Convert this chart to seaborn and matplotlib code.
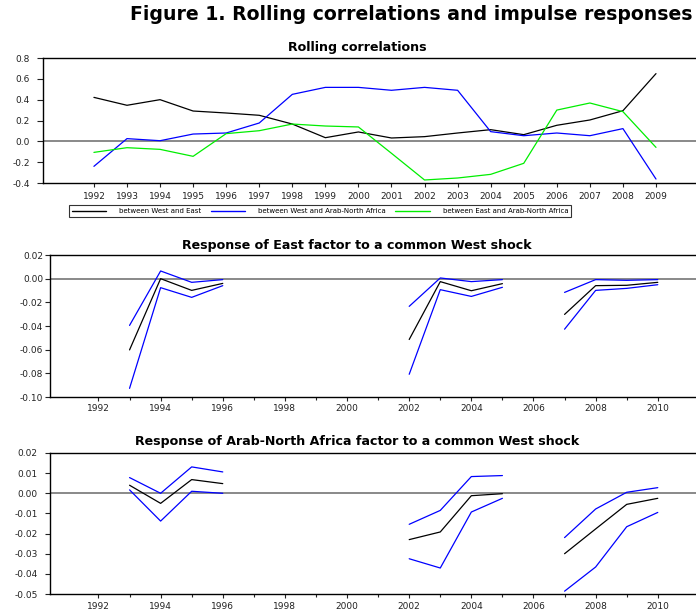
import matplotlib
matplotlib.use("Agg")
import matplotlib.pyplot as plt
from matplotlib.ticker import FixedLocator, FormatStrFormatter
import numpy as np
import pandas as pd
import seaborn as sns

# ---- rolling correlations ------------------------------------------------
corr_years = list(range(1992, 2010))
west_east = [0.422, 0.346, 0.400, 0.291, 0.272, 0.250, 0.166, 0.035, 0.090,
             0.032, 0.045, 0.080, 0.112, 0.064, 0.154, 0.205, 0.294, 0.650]
west_arab = [-0.240, 0.026, 0.006, 0.070, 0.080, 0.176, 0.451, 0.518, 0.518,
             0.490, 0.518, 0.490, 0.093, 0.054, 0.080, 0.054, 0.122, -0.362]
east_arab = [-0.106, -0.061, -0.077, -0.144, 0.074, 0.102, 0.166, 0.147, 0.138,
             -0.115, -0.371, -0.352, -0.317, -0.211, 0.300, 0.368, 0.285, -0.058]
corr_labels = ["between West and East",
               "between West and Arab-North Africa",
               "between East and Arab-North Africa"]

# ---- impulse responses (three estimation windows) ------------------------
irf_years = [1993, 1994, 1995, 1996, 2002, 2003, 2004, 2005, 2007, 2008, 2009, 2010]
irf_window = [1, 1, 1, 1, 2, 2, 2, 2, 3, 3, 3, 3]

east_mid = [-0.0602, 0.0000, -0.0099, -0.0040, -0.0514, -0.0025, -0.0102, -0.0042,
            -0.0302, -0.0059, -0.0056, -0.0031]
east_hi = [-0.0395, 0.0065, -0.0031, -0.0008, -0.0234, 0.0006, -0.0025, -0.0008,
           -0.0116, -0.0008, -0.0014, -0.0008]
east_lo = [-0.0927, -0.0076, -0.0158, -0.0059, -0.0808, -0.0093, -0.0150, -0.0073,
           -0.0427, -0.0099, -0.0082, -0.0051]

arab_mid = [0.0040, -0.0050, 0.0068, 0.0048, -0.0230, -0.0192, -0.0012, -0.0002,
            -0.0300, -0.0177, -0.0055, -0.0025]
arab_hi = [0.0078, 0.0000, 0.0131, 0.0106, -0.0154, -0.0085, 0.0083, 0.0088,
           -0.0220, -0.0078, 0.0005, 0.0028]
arab_lo = [0.0017, -0.0138, 0.0010, 0.0000, -0.0325, -0.0371, -0.0093, -0.0025,
           -0.0486, -0.0366, -0.0166, -0.0095]

titles = ["Rolling correlations",
          "Response of East factor to a common West shock",
          "Response of Arab-North Africa factor to a common West shock"]
main_title = "Figure 1. Rolling correlations and impulse responses"

sns.set_style("white")
plt.rcParams["font.family"] = ["DejaVu Sans"]
plt.rcParams["text.color"] = "black"
plt.rcParams["axes.linewidth"] = 1.0

fig = plt.figure(figsize=(6.96, 6.12), dpi=100)
W, H = 696.0, 612.0


def px_axes(left, top, bottom, right=696):
    return fig.add_axes([left / W, 1 - bottom / H, (right - left) / W, (bottom - top) / H])


def style_axes(ax, ylen, ypad, xpad):
    for side in ("left", "top", "bottom"):
        ax.spines[side].set_color("black")
        ax.spines[side].set_linewidth(1.0)
    ax.spines["right"].set_visible(False)
    ax.axhline(0, color="#6a6a6a", lw=1.1, zorder=1)
    ax.tick_params(axis="both", which="both", direction="out", colors="#222222",
                   labelsize=6.5, width=0.8, bottom=True, left=True)
    ax.tick_params(axis="y", length=ylen, pad=ypad)
    ax.tick_params(axis="x", which="major", length=3.2, pad=xpad)
    ax.tick_params(axis="x", which="minor", length=1.8, pad=xpad)
    ax.set_xlabel("")
    ax.set_ylabel("")


# ---- panel 1: rolling correlations ---------------------------------------
corr_df = pd.DataFrame({
    "year": corr_years * 3,
    "corr": west_east + west_arab + east_arab,
    "pair": [corr_labels[0]] * 18 + [corr_labels[1]] * 18 + [corr_labels[2]] * 18,
})
ax1 = px_axes(43, 58, 183)
sns.lineplot(data=corr_df, x="year", y="corr", hue="pair", hue_order=corr_labels,
             palette=["black", "#0000ff", "#00ee00"], linewidth=0.9, ax=ax1,
             legend=True)
ax1.set_xlim(1990.46, 2010.21)
ax1.set_ylim(-0.4, 0.8)
ax1.yaxis.set_major_locator(FixedLocator(np.arange(-0.4, 0.81, 0.2)))
ax1.yaxis.set_major_formatter(FormatStrFormatter("%.1f"))
ax1.xaxis.set_major_locator(FixedLocator(corr_years))
style_axes(ax1, ylen=4.3, ypad=5, xpad=3)
handles, labels = ax1.get_legend_handles_labels()
ax1.get_legend().remove()
leg = fig.legend(handles, labels, loc="center", ncol=3,
                 bbox_to_anchor=(320 / W, 1 - 211 / H), fontsize=5.0,
                 frameon=True, fancybox=False, edgecolor="black",
                 handlelength=5.0, handletextpad=1.8, columnspacing=1.4,
                 borderpad=0.4)
leg.get_frame().set_linewidth(0.8)
for line in leg.get_lines():
    line.set_linewidth(1.0)


# ---- panels 2 and 3: impulse responses -----------------------------------
def irf_frame(mid, lo, hi):
    n = len(irf_years)
    return pd.DataFrame({
        "year": irf_years * 3,
        "value": mid + lo + hi,
        "band": ["response"] * n + ["lower"] * n + ["upper"] * n,
        "window": [f"{b}-{w}" for b in ("m", "l", "u") for w in irf_window],
    })


def irf_panel(top, bottom, mid, lo, hi, ymin, ymax, step, ypad, xpad):
    ax = px_axes(50, top, bottom)
    sns.lineplot(data=irf_frame(mid, lo, hi), x="year", y="value", hue="band",
                 hue_order=["response", "lower", "upper"],
                 palette=["black", "#0000ff", "#0000ff"], units="window",
                 estimator=None, linewidth=0.9, legend=False, ax=ax)
    ax.set_xlim(1990.44, 2011.23)
    ax.set_ylim(ymin, ymax)
    ax.yaxis.set_major_locator(FixedLocator(np.arange(ymin, ymax + step / 2, step)))
    ax.yaxis.set_major_formatter(FormatStrFormatter("%.2f"))
    ax.xaxis.set_major_locator(FixedLocator(range(1992, 2011, 2)))
    ax.xaxis.set_minor_locator(FixedLocator(range(1993, 2010, 2)))
    style_axes(ax, ylen=3.5, ypad=ypad, xpad=xpad)
    return ax


ax2 = irf_panel(255, 397, east_mid, east_lo, east_hi, -0.10, 0.02, 0.02,
                ypad=1.5, xpad=1.5)
ax3 = irf_panel(453, 594, arab_mid, arab_lo, arab_hi, -0.05, 0.02, 0.01,
                ypad=5.5, xpad=2.5)

# ---- titles ---------------------------------------------------------------
fig.text(411 / W, 1 - 15 / H, main_title, ha="center", va="center",
         fontsize=13.6, fontweight="bold")
for ttl, y in zip(titles, (47, 245, 442)):
    fig.text(357 / W, 1 - y / H, ttl, ha="center", va="center",
             fontsize=9.1, fontweight="bold")

fig.savefig("out.png", dpi=100)
